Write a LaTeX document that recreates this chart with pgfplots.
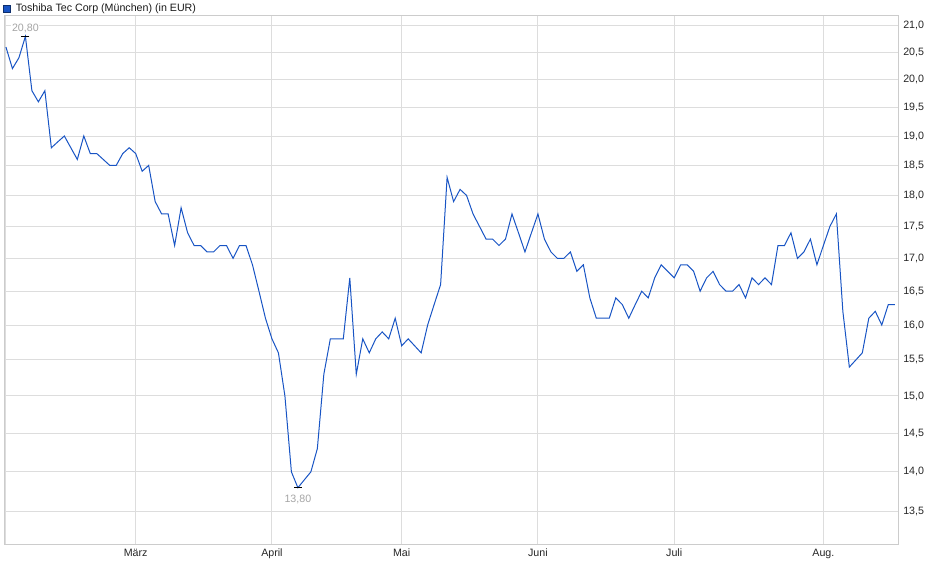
\documentclass[border=0pt]{standalone}
\usepackage{pgfplots}
\usepackage{pgfplotstable}
\pgfplotsset{compat=1.18}
\usepackage{fontspec}
\setmainfont{Liberation Sans}

\definecolor{kurs}{RGB}{24,84,196}
\definecolor{gitter}{RGB}{221,221,221}
\definecolor{rahmen}{RGB}{204,204,204}
\definecolor{marke}{RGB}{165,165,165}

% Handelstage ab Anfang Februar, Schlusskurse in EUR
\pgfplotstableread{
i kurs
0 20.6
1 20.2
2 20.4
3 20.8
4 19.8
5 19.6
6 19.8
7 18.8
8 18.9
9 19.0
10 18.8
11 18.6
12 19.0
13 18.7
14 18.7
15 18.6
16 18.5
17 18.5
18 18.7
19 18.8
20 18.7
21 18.4
22 18.5
23 17.9
24 17.7
25 17.7
26 17.2
27 17.8
28 17.4
29 17.2
30 17.2
31 17.1
32 17.1
33 17.2
34 17.2
35 17.0
36 17.2
37 17.2
38 16.9
39 16.5
40 16.1
41 15.8
42 15.6
43 15.0
44 14.0
45 13.8
46 13.9
47 14.0
48 14.3
49 15.3
50 15.8
51 15.8
52 15.8
53 16.7
54 15.3
55 15.8
56 15.6
57 15.8
58 15.9
59 15.8
60 16.1
61 15.7
62 15.8
63 15.7
64 15.6
65 16.0
66 16.3
67 16.6
68 18.3
69 17.9
70 18.1
71 18.0
72 17.7
73 17.5
74 17.3
75 17.3
76 17.2
77 17.3
78 17.7
79 17.4
80 17.1
81 17.4
82 17.7
83 17.3
84 17.1
85 17.0
86 17.0
87 17.1
88 16.8
89 16.9
90 16.4
91 16.1
92 16.1
93 16.1
94 16.4
95 16.3
96 16.1
97 16.3
98 16.5
99 16.4
100 16.7
101 16.9
102 16.8
103 16.7
104 16.9
105 16.9
106 16.8
107 16.5
108 16.7
109 16.8
110 16.6
111 16.5
112 16.5
113 16.6
114 16.4
115 16.7
116 16.6
117 16.7
118 16.6
119 17.2
120 17.2
121 17.4
122 17.0
123 17.1
124 17.3
125 16.9
126 17.2
127 17.5
128 17.7
129 16.2
130 15.4
131 15.5
132 15.6
133 16.1
134 16.2
135 16.0
136 16.3
137 16.3
}\kursdaten

\begin{document}
\begin{tikzpicture}
\begin{axis}[
    at={(3pt,25.5pt)}, anchor=south west,
    scale only axis,
    width=670.5pt, height=396.75pt,
    xmin=-0.3, xmax=137.5,
    ymode=log, ymin=13.1, ymax=21.19,
    xtick={0,20,41,61,82,103,126},
    xticklabels={,März,April,Mai,Juni,Juli,Aug.},
    ytick={13.5,14,14.5,15,15.5,16,16.5,17,17.5,18,18.5,19,19.5,20,20.5,21},
    yticklabels={{13,5},{14,0},{14,5},{15,0},{15,5},{16,0},{16,5},{17,0},{17,5},{18,0},{18,5},{19,0},{19,5},{20,0},{20,5},{21,0}},
    yticklabel pos=right,
    grid=major,
    major grid style={gitter, line width=0.75pt},
    axis line style={rahmen, line width=0.75pt},
    tick style={draw=none},
    tick label style={font=\fontsize{8}{9}\selectfont, text=black!85},
    yticklabel style={anchor=west, inner sep=0pt, xshift=3.75pt},
    xticklabel style={anchor=north, inner sep=0pt, yshift=-3pt},
    legend style={at={(axis description cs:0,1)}, anchor=south west,
        xshift=-0.75pt, yshift=2pt,
        draw=none, fill=none, inner sep=0pt, outer sep=0pt,
        column sep=3.75pt,
        nodes={inner sep=0pt, font=\fontsize{8}{9}\selectfont, text=black!90}},
    legend image code/.code={
        \filldraw[draw=kurs!55!black, fill=kurs, line width=0.6pt]
            (0pt,-2.6pt) rectangle (5.25pt,2.65pt);},
]
\addplot[kurs, line width=0.75pt, mark=none] table[x=i, y=kurs] {\kursdaten};
\addlegendentry{Toshiba Tec Corp (München) (in EUR)}

\addplot[black, only marks, mark=-, mark size=3pt,
    mark options={line width=0.75pt}, forget plot]
    coordinates {(3,20.8) (45,13.8)};

\node[anchor=base, fill=white, inner sep=0.5pt, text=marke,
    font=\fontsize{8}{9}\selectfont, yshift=3.75pt] at (axis cs:3,20.8) {20,80};
\node[anchor=base, inner sep=0.5pt, text=marke,
    font=\fontsize{8}{9}\selectfont, yshift=-11.25pt] at (axis cs:45,13.8) {13,80};
\end{axis}
\pgfresetboundingbox
\path[use as bounding box] (0pt,0pt) rectangle (705pt,434.25pt);
\end{tikzpicture}
\end{document}
